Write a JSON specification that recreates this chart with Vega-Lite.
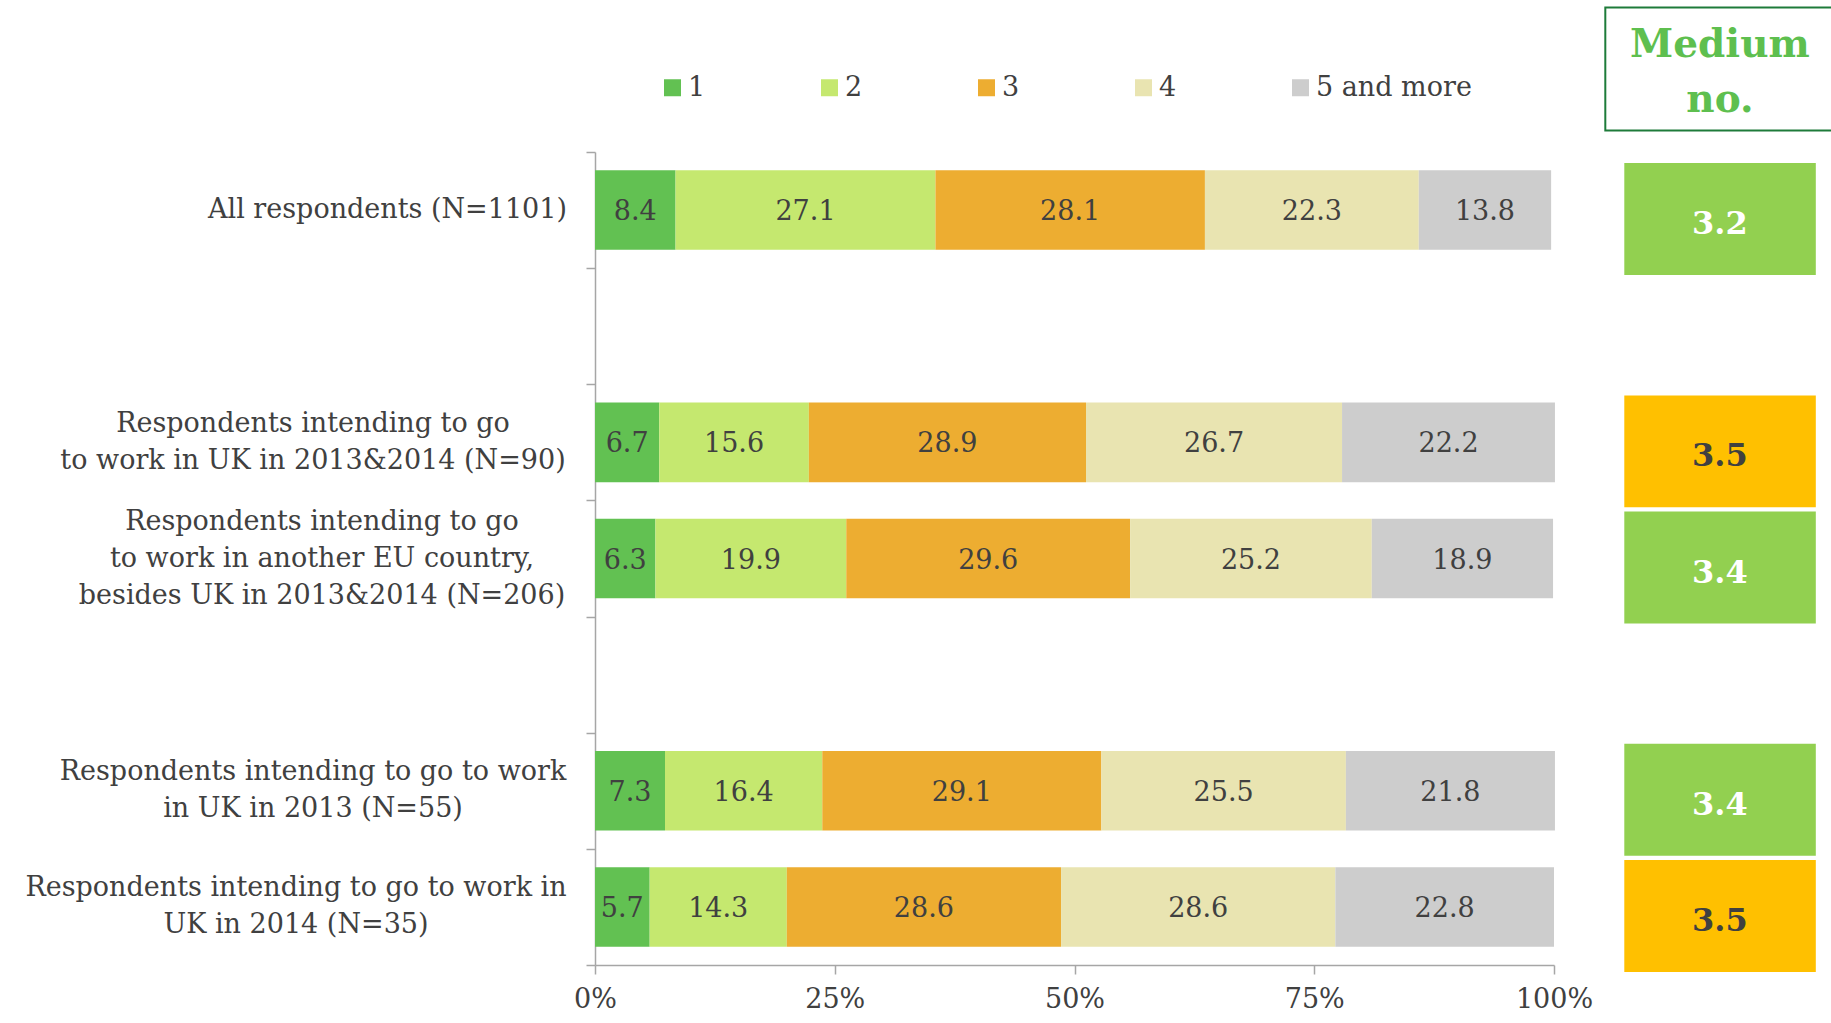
{
  "$schema": "https://vega.github.io/schema/vega-lite/v6.json",
  "width": 959,
  "height": 813,
  "autosize": {"type": "none"},
  "padding": {"left": 595, "top": 152, "right": 277, "bottom": 58},
  "background": "white",
  "config": {
    "font": "DejaVu Serif",
    "view": {"stroke": null},
    "axis": {"labelFont": "DejaVu Serif", "labelColor": "#404040", "labelFontSize": 27, "domainColor": "#A6A6A6", "domainWidth": 1.5, "tickColor": "#A6A6A6", "tickWidth": 1.5, "tickSize": 9, "grid": false, "title": null}
  },
  "datasets": {
    "shares": [
      {"grp": "All respondents (N=1101)", "cat": "1", "v": 8.4},
      {"grp": "All respondents (N=1101)", "cat": "2", "v": 27.1},
      {"grp": "All respondents (N=1101)", "cat": "3", "v": 28.1},
      {"grp": "All respondents (N=1101)", "cat": "4", "v": 22.3},
      {"grp": "All respondents (N=1101)", "cat": "5 and more", "v": 13.8},
      {"grp": "Respondents intending to go|to work in UK in 2013&2014 (N=90)", "cat": "1", "v": 6.7},
      {"grp": "Respondents intending to go|to work in UK in 2013&2014 (N=90)", "cat": "2", "v": 15.6},
      {"grp": "Respondents intending to go|to work in UK in 2013&2014 (N=90)", "cat": "3", "v": 28.9},
      {"grp": "Respondents intending to go|to work in UK in 2013&2014 (N=90)", "cat": "4", "v": 26.7},
      {"grp": "Respondents intending to go|to work in UK in 2013&2014 (N=90)", "cat": "5 and more", "v": 22.2},
      {"grp": "Respondents intending to go|to work in another EU country,|besides UK in 2013&2014 (N=206)", "cat": "1", "v": 6.3},
      {"grp": "Respondents intending to go|to work in another EU country,|besides UK in 2013&2014 (N=206)", "cat": "2", "v": 19.9},
      {"grp": "Respondents intending to go|to work in another EU country,|besides UK in 2013&2014 (N=206)", "cat": "3", "v": 29.6},
      {"grp": "Respondents intending to go|to work in another EU country,|besides UK in 2013&2014 (N=206)", "cat": "4", "v": 25.2},
      {"grp": "Respondents intending to go|to work in another EU country,|besides UK in 2013&2014 (N=206)", "cat": "5 and more", "v": 18.9},
      {"grp": "Respondents intending to go to work|in UK in 2013 (N=55)", "cat": "1", "v": 7.3},
      {"grp": "Respondents intending to go to work|in UK in 2013 (N=55)", "cat": "2", "v": 16.4},
      {"grp": "Respondents intending to go to work|in UK in 2013 (N=55)", "cat": "3", "v": 29.1},
      {"grp": "Respondents intending to go to work|in UK in 2013 (N=55)", "cat": "4", "v": 25.5},
      {"grp": "Respondents intending to go to work|in UK in 2013 (N=55)", "cat": "5 and more", "v": 21.8},
      {"grp": "Respondents intending to go to work in|UK in 2014 (N=35)", "cat": "1", "v": 5.7},
      {"grp": "Respondents intending to go to work in|UK in 2014 (N=35)", "cat": "2", "v": 14.3},
      {"grp": "Respondents intending to go to work in|UK in 2014 (N=35)", "cat": "3", "v": 28.6},
      {"grp": "Respondents intending to go to work in|UK in 2014 (N=35)", "cat": "4", "v": 28.6},
      {"grp": "Respondents intending to go to work in|UK in 2014 (N=35)", "cat": "5 and more", "v": 22.8}
    ],
    "medium": [
      {"grp": "All respondents (N=1101)", "m": 3.2},
      {"grp": "Respondents intending to go|to work in UK in 2013&2014 (N=90)", "m": 3.5},
      {"grp": "Respondents intending to go|to work in another EU country,|besides UK in 2013&2014 (N=206)", "m": 3.4},
      {"grp": "Respondents intending to go to work|in UK in 2013 (N=55)", "m": 3.4},
      {"grp": "Respondents intending to go to work in|UK in 2014 (N=35)", "m": 3.5}
    ]
  },
  "encoding": {
    "y": {
      "field": "grp", "type": "nominal",
      "scale": {
        "domain": ["All respondents (N=1101)", " ", "Respondents intending to go|to work in UK in 2013&2014 (N=90)", "Respondents intending to go|to work in another EU country,|besides UK in 2013&2014 (N=206)", "  ", "Respondents intending to go to work|in UK in 2013 (N=55)", "Respondents intending to go to work in|UK in 2014 (N=35)"],
        "paddingInner": 0, "paddingOuter": 0
      },
      "axis": {"tickBand": "extent", "labels": false}
    }
  },
  "layer": [
    {
      "data": {"name": "shares"},
      "transform": [
        {"stack": "v", "groupby": ["grp"], "sort": [{"field": "cat", "order": "ascending"}], "as": ["v0", "v1"]}
      ],
      "mark": {"type": "bar", "height": {"band": 0.685}},
      "encoding": {
        "x": {
          "field": "v0", "type": "quantitative",
          "scale": {"domain": [0, 100], "nice": false},
          "axis": {"values": [0, 25, 50, 75, 100], "labelExpr": "datum.value + '%'", "labelPadding": 12, "labelFlush": false}
        },
        "x2": {"field": "v1"},
        "color": {
          "field": "cat", "type": "nominal",
          "scale": {"domain": ["1", "2", "3", "4", "5 and more"], "range": ["#62C152", "#C5E86F", "#EDAD31", "#E9E4B1", "#CDCDCD"]},
          "legend": {
            "orient": "none", "legendX": 64, "legendY": -78,
            "direction": "horizontal", "title": null,
            "symbolType": "square", "symbolSize": 289, "symbolStrokeWidth": 0,
            "labelFont": "DejaVu Serif", "labelFontSize": 27, "labelColor": "#404040",
            "labelOffset": 2, "columnPadding": 110, "padding": 0
          }
        }
      }
    },
    {
      "data": {"name": "shares"},
      "transform": [
        {"stack": "v", "groupby": ["grp"], "sort": [{"field": "cat", "order": "ascending"}], "as": ["v0", "v1"]},
        {"calculate": "(datum.v0 + datum.v1) / 2", "as": "mid"}
      ],
      "mark": {"type": "text", "fontSize": 27, "color": "#404040", "baseline": "middle", "dy": 2},
      "encoding": {
        "x": {"field": "mid", "type": "quantitative"},
        "text": {"field": "v", "type": "quantitative", "format": ".1f"}
      }
    },
    {
      "data": {"name": "medium"},
      "transform": [
        {"calculate": "split(datum.grp, '|')", "as": "lines"},
        {"filter": "length(datum.lines) == 1"}
      ],
      "mark": {"type": "text", "fontSize": 27, "color": "#404040", "baseline": "middle", "align": "right", "dx": -28},
      "encoding": {
        "x": {"datum": 0, "type": "quantitative"},
        "text": {"field": "lines"}
      }
    },
    {
      "data": {"name": "medium"},
      "transform": [
        {"calculate": "split(datum.grp, '|')", "as": "lines"},
        {"filter": "length(datum.lines) == 2 && indexof(datum.grp, 'N=35') < 0"}
      ],
      "mark": {"type": "text", "fontSize": 27, "color": "#404040", "baseline": "middle", "align": "center", "lineHeight": 37, "dx": -282, "dy": -18.5},
      "encoding": {
        "x": {"datum": 0, "type": "quantitative"},
        "text": {"field": "lines"}
      }
    },
    {
      "data": {"name": "medium"},
      "transform": [
        {"calculate": "split(datum.grp, '|')", "as": "lines"},
        {"filter": "indexof(datum.grp, 'N=35') >= 0"}
      ],
      "mark": {"type": "text", "fontSize": 27, "color": "#404040", "baseline": "middle", "align": "center", "lineHeight": 37, "dx": -299, "dy": -18.5},
      "encoding": {
        "x": {"datum": 0, "type": "quantitative"},
        "text": {"field": "lines"}
      }
    },
    {
      "data": {"name": "medium"},
      "transform": [
        {"calculate": "split(datum.grp, '|')", "as": "lines"},
        {"filter": "length(datum.lines) == 3"}
      ],
      "mark": {"type": "text", "fontSize": 27, "color": "#404040", "baseline": "middle", "align": "center", "lineHeight": 37, "dx": -273, "dy": -37},
      "encoding": {
        "x": {"datum": 0, "type": "quantitative"},
        "text": {"field": "lines"}
      }
    },
    {
      "data": {"name": "medium"},
      "mark": {"type": "bar", "height": {"band": 0.964}, "yOffset": 9},
      "encoding": {
        "x": {"datum": 107.33, "type": "quantitative"},
        "x2": {"datum": 127.3},
        "fill": {"condition": {"test": "datum.m >= 3.5", "value": "#FFC000"}, "value": "#92D050"}
      }
    },
    {
      "data": {"name": "medium"},
      "mark": {"type": "text", "fontSize": 32, "fontWeight": "bold", "baseline": "middle", "yOffset": 14},
      "encoding": {
        "x": {"datum": 117.3, "type": "quantitative"},
        "text": {"field": "m", "type": "quantitative", "format": ".1f"},
        "color": {"condition": {"test": "datum.m >= 3.5", "value": "#404040"}, "value": "#FFFFFF"}
      }
    },
    {
      "data": {"values": [{"head": "Medium no."}]},
      "mark": {"type": "rect", "fill": "white", "stroke": "#1E7B3A", "strokeWidth": 2, "height": 123, "yOffset": -141},
      "encoding": {
        "x": {"datum": 105.35, "type": "quantitative"},
        "x2": {"datum": 129.5},
        "y": {"datum": "All respondents (N=1101)", "type": "nominal"}
      }
    },
    {
      "data": {"values": [{"head": "Medium no."}]},
      "mark": {"type": "text", "text": ["Medium", "no."], "fontSize": 39, "fontWeight": "bold", "color": "#5EBF4F", "lineHeight": 55, "baseline": "middle", "yOffset": -165},
      "encoding": {
        "x": {"datum": 117.3, "type": "quantitative"},
        "y": {"datum": "All respondents (N=1101)", "type": "nominal"}
      }
    }
  ]
}
